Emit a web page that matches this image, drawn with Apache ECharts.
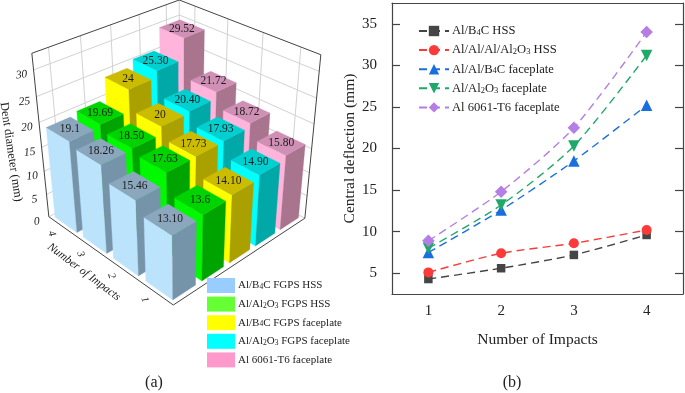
<!DOCTYPE html>
<html><head><meta charset="utf-8">
<style>html,body{margin:0;padding:0;background:#fff}#c{width:685px;height:393px}</style>
<script src="https://cdn.jsdelivr.net/npm/echarts@6/dist/echarts.min.js"></script>
</head><body><div id="c"></div>
<script>
// ---- data: panel (a) dent diameter, index by impact 1..4
var impacts = [1, 2, 3, 4];
var zTicks = [0, 5, 10, 15, 20, 25, 30];
var barNames = ['Al/B4C FGPS HSS', 'Al/Al2O3 FGPS HSS', 'Al/B4C FGPS faceplate', 'Al/Al2O3 FGPS faceplate', 'Al 6061-T6 faceplate'];
var dentB4CHSS   = [13.10, 15.46, 18.26, 19.1];
var dentAl2O3HSS = [13.6, 17.63, 18.50, 19.69];
var dentB4CFace  = [14.10, 17.73, 20, 24];
var dentAl2O3Face= [14.90, 17.93, 20.40, 25.30];
var dentAl6061   = [15.80, 18.72, 21.72, 29.52];
var dentLabels = [
  ['13.10', '15.46', '18.26', '19.1'],
  ['13.6', '17.63', '18.50', '19.69'],
  ['14.10', '17.73', '20', '24'],
  ['14.90', '17.93', '20.40', '25.30'],
  ['15.80', '18.72', '21.72', '29.52']
];
// ---- data: panel (b) central deflection
var lineNames = ['Al/B4C HSS', 'Al/Al/Al/Al2O3 HSS', 'Al/Al/B4C faceplate', 'Al/Al2O3 faceplate', 'Al 6061-T6 faceplate '];
var deflB4C    = [4.3, 5.6, 7.2, 9.6];
var deflAl2O3H = [5.1, 7.4, 8.6, 10.2];
var deflB4CF   = [7.5, 12.6, 18.5, 25.2];
var deflAl2O3F = [8.0, 13.2, 20.3, 31.2];
var deflAl6061 = [8.9, 14.8, 22.5, 34.0];
var yTicks = [5, 10, 15, 20, 25, 30, 35];

var SERIF = '"Liberation Serif","Times New Roman",serif';
var Z_MAX = 33;
// projection calibration: box corners (u along impacts, v along series, w height) -> screen
var calib = [
  [[0,0,0],[173,305]], [[1,0,0],[49,217]], [[0,1,0],[305,218]],
  [[1,0,1],[32,53]],   [[0,1,1],[321,55]], [[1,1,1],[179,0]]
];
function solveProjection(pts){
  var A=[],b=[];
  pts.forEach(function(p){
    var X=p[0][0],Y=p[0][1],Z=p[0][2],x=p[1][0],y=p[1][1];
    A.push([X,Y,Z,1,0,0,0,0,-x*X,-x*Y,-x*Z]);b.push(x);
    A.push([0,0,0,0,X,Y,Z,1,-y*X,-y*Y,-y*Z]);b.push(y);
  });
  var n=11,M=[];
  for(var i=0;i<n;i++){M[i]=[];for(var j=0;j<n;j++){var s=0;for(var r=0;r<A.length;r++)s+=A[r][i]*A[r][j];M[i][j]=s+(i===j?1e-9:0);}
    var t=0;for(var r2=0;r2<A.length;r2++)t+=A[r2][i]*b[r2];M[i][n]=t;}
  for(var c=0;c<n;c++){var piv=c;for(var k=c+1;k<n;k++)if(Math.abs(M[k][c])>Math.abs(M[piv][c]))piv=k;
    var tmp=M[c];M[c]=M[piv];M[piv]=tmp;
    for(var k2=0;k2<n;k2++){if(k2===c)continue;var f=M[k2][c]/M[c][c];for(var q=c;q<=n;q++)M[k2][q]-=f*M[c][q];}}
  var h=[];for(var i2=0;i2<n;i2++)h[i2]=M[i2][n]/M[i2][i2];
  return h;
}
var H=solveProjection(calib);
function P(u,v,w){
  var d=H[8]*u+H[9]*v+H[10]*w+1;
  return [(H[0]*u+H[1]*v+H[2]*w+H[3])/d,(H[4]*u+H[5]*v+H[6]*w+H[7])/d];
}
function zw(val){return val/Z_MAX;}

var faceStyles=[
  {front:'#bbe3fc',top:'#8ba7bd',side:'#7694a9',legend:'#99ccff'},
  {front:'#00f800',top:'#00d400',side:'#00a400',legend:'#66ff33'},
  {front:'#ffff00',top:'#ccbc00',side:'#aaa000',legend:'#ffff00'},
  {front:'#00ffff',top:'#00d0d0',side:'#00a8a8',legend:'#00ffff'},
  {front:'#ffb4dc',top:'#d090b6',side:'#a8748e',legend:'#ff99cc'}
];
var nImp=impacts.length,nSer=barNames.length,barFill=0.78;
function barItem(si){
  return function(params,api){
    var idx=api.value(0),val=api.value(1),st=faceStyles[si];
    var u0=(idx+(1-barFill)/2)/nImp,u1=(idx+1-(1-barFill)/2)/nImp;
    var v0=(si+(1-barFill)/2)/nSer,v1=(si+1-(1-barFill)/2)/nSer;
    var w=zw(val);
    function poly(pts,color){return {type:'polygon',shape:{points:pts},style:{fill:color,stroke:color,lineWidth:0.3},silent:true};}
    var c=P((u0+u1)/2,(v0+v1)/2,w);
    return {type:'group',children:[
      poly([P(u0,v0,0),P(u1,v0,0),P(u1,v0,w),P(u0,v0,w)],st.front),
      poly([P(u0,v0,0),P(u0,v1,0),P(u0,v1,w),P(u0,v0,w)],st.side),
      poly([P(u0,v0,w),P(u1,v0,w),P(u1,v1,w),P(u0,v1,w)],st.top),
      {type:'text',silent:true,x:c[0],y:c[1],style:{text:dentLabels[si][idx],fill:'#1c1c1c',font:'11.5px '+SERIF,align:'center',verticalAlign:'middle'}}
    ]};
  };
}
function frameItem(params,api){
  var ch=[];
  function line(a,b,col,lw){ch.push({type:'line',silent:true,shape:{x1:a[0],y1:a[1],x2:b[0],y2:b[1]},style:{stroke:col,lineWidth:lw}});}
  var G='#d2d2d2',K='#444';
  zTicks.forEach(function(z){var w=zw(z);
    line(P(1,0,w),P(1,1,w),G,1);line(P(1,1,w),P(0,1,w),G,1);
    var p=P(1,0,w);
    ch.push({type:'text',silent:true,x:p[0]-12,y:p[1]+5,rotation:0.1,style:{text:String(z),fill:'#222',font:'italic 11.5px '+SERIF,align:'center',verticalAlign:'middle'}});
  });
  for(var a=0;a<nImp;a++){line(P((a+0.5)/nImp,1,0),P((a+0.5)/nImp,1,1),G,1);}
  for(var b=0;b<nSer;b++){line(P(1,(b+0.5)/nSer,0),P(1,(b+0.5)/nSer,1),G,1);}
  line(P(1,1,0),P(1,1,1),G,1);
  line(P(1,0,1),P(1,1,1),K,1);line(P(1,1,1),P(0,1,1),K,1);
  line(P(1,0,0),P(1,0,1),K,1);line(P(0,1,0),P(0,1,1),K,1);
  line(P(1,0,0),P(0,0,0),K,1);line(P(0,0,0),P(0,1,0),K,1);
  impacts.forEach(function(c,i){var p=P((i+0.5)/nImp,0,0);
    ch.push({type:'text',silent:true,x:p[0]-11,y:p[1]+7,rotation:-1.25,style:{text:String(c),fill:'#222',font:'italic 10.5px '+SERIF,align:'center',verticalAlign:'middle'}});
  });
  ch.push({type:'text',silent:true,x:84,y:272,rotation:-37*Math.PI/180,style:{text:'Number of Impacts',fill:'#222',font:'italic 11.5px '+SERIF,align:'center',verticalAlign:'middle'}});
  ch.push({type:'text',silent:true,x:11,y:152,rotation:-81.5*Math.PI/180,style:{text:'Dent diameter (mm)',fill:'#222',font:'12.3px '+SERIF,align:'center',verticalAlign:'middle'}});
  return {type:'group',children:ch};
}
function subFmt(name){return name.replace(/(B|Al)(\d)/g,'$1{sub|$2}').replace(/O(\d)/g,'O{sub|$1}');}

var dentSets=[dentB4CHSS,dentAl2O3HSS,dentB4CFace,dentAl2O3Face,dentAl6061];
var series=[{type:'custom',name:'frame',coordinateSystem:'none',silent:true,z:1,data:[[0]],renderItem:frameItem,animation:false}];
for(var s=nSer-1;s>=0;s--){
  var d=[];for(var i=nImp-1;i>=0;i--)d.push([i,dentSets[s][i]]);
  series.push({type:'custom',name:barNames[s],coordinateSystem:'none',silent:true,z:2,data:d,
    itemStyle:{color:faceStyles[s].legend},renderItem:barItem(s),animation:false,encode:{value:1}});
}
var lineStyles=[
  {c:'#454545',sym:'rect',size:8.5,rot:0},
  {c:'#fb3a3a',sym:'circle',size:10,rot:0},
  {c:'#1a6fdf',sym:'triangle',size:11.5,rot:0},
  {c:'#1fa968',sym:'triangle',size:11.5,rot:180},
  {c:'#b47ee5',sym:'diamond',size:12.5,rot:0}
];
[deflB4C,deflAl2O3H,deflB4CF,deflAl2O3F,deflAl6061].forEach(function(vals,k){
  var st=lineStyles[k];
  series.push({type:'line',name:lineNames[k],xAxisIndex:0,yAxisIndex:0,data:vals,smooth:0.25,animation:false,z:3,
    symbol:st.sym,symbolSize:st.size,symbolRotate:st.rot,
    lineStyle:{color:st.c,width:1.4,type:[8,5]},itemStyle:{color:st.c}});
});
var axC={color:'#444',width:1.2};
var opt={
  animation:false,backgroundColor:'#fff',
  grid:{left:392,top:3,width:291,height:291},
  legend:[
    {orient:'vertical',padding:0,left:207,top:278,itemWidth:28,itemHeight:15,itemGap:3.6,data:barNames,selectedMode:false,icon:'rect',
      formatter:subFmt,textStyle:{fontFamily:SERIF,fontSize:11,color:'#222',padding:[0,0,0,-2],rich:{sub:{fontSize:7.5,verticalAlign:'bottom',fontFamily:SERIF,color:'#222'}}}},
    {orient:'vertical',padding:0,left:418,top:24.5,itemWidth:30,itemHeight:13,itemGap:6.1,data:lineNames,selectedMode:false,
      formatter:subFmt,textStyle:{fontFamily:SERIF,fontSize:12.6,color:'#222',padding:[0,0,0,-2],rich:{sub:{fontSize:8.5,verticalAlign:'bottom',fontFamily:SERIF,color:'#222'}}}}
  ],
  xAxis:[
    {type:'category',data:impacts,boundaryGap:true,position:'bottom',name:'Number of Impacts',nameLocation:'middle',nameGap:38,
      nameTextStyle:{fontFamily:SERIF,fontSize:15.5,color:'#222'},
      axisLine:{lineStyle:axC},axisTick:{inside:true,length:8,alignWithLabel:true,lineStyle:axC},
      axisLabel:{fontFamily:SERIF,fontSize:15,color:'#222',margin:10},splitLine:{show:false}},
    {type:'category',data:impacts,boundaryGap:true,position:'top',
      axisLine:{lineStyle:axC},axisTick:{inside:true,length:8,alignWithLabel:true,lineStyle:axC},
      axisLabel:{show:false},splitLine:{show:false}}
  ],
  yAxis:[
    {type:'value',min:2.5,max:37.5,position:'left',name:'Central deflection (mm)',nameLocation:'middle',nameGap:34,
      nameTextStyle:{fontFamily:SERIF,fontSize:15.5,color:'#222'},
      axisLine:{show:true,lineStyle:axC},axisTick:{show:true,inside:true,length:8,lineStyle:axC,customValues:yTicks},
      axisLabel:{fontFamily:SERIF,fontSize:15,color:'#222',margin:15,customValues:yTicks},splitLine:{show:false}},
    {type:'value',min:2.5,max:37.5,position:'right',
      axisLine:{show:true,lineStyle:axC},axisTick:{show:true,inside:true,length:8,lineStyle:axC,customValues:yTicks},
      axisLabel:{show:false},splitLine:{show:false}}
  ],
  graphic:[
    {type:'text',x:154,y:383,style:{text:'(a)',font:'16px '+SERIF,fill:'#222',align:'center',verticalAlign:'middle'}},
    {type:'text',x:512,y:383,style:{text:'(b)',font:'16px '+SERIF,fill:'#222',align:'center',verticalAlign:'middle'}}
  ],
  series:series
};
opt.series.push({type:'line',xAxisIndex:1,yAxisIndex:1,data:[],silent:true});
var chart=echarts.init(document.getElementById('c'),null,{renderer:'canvas'});
chart.setOption(opt);
</script></body></html>
